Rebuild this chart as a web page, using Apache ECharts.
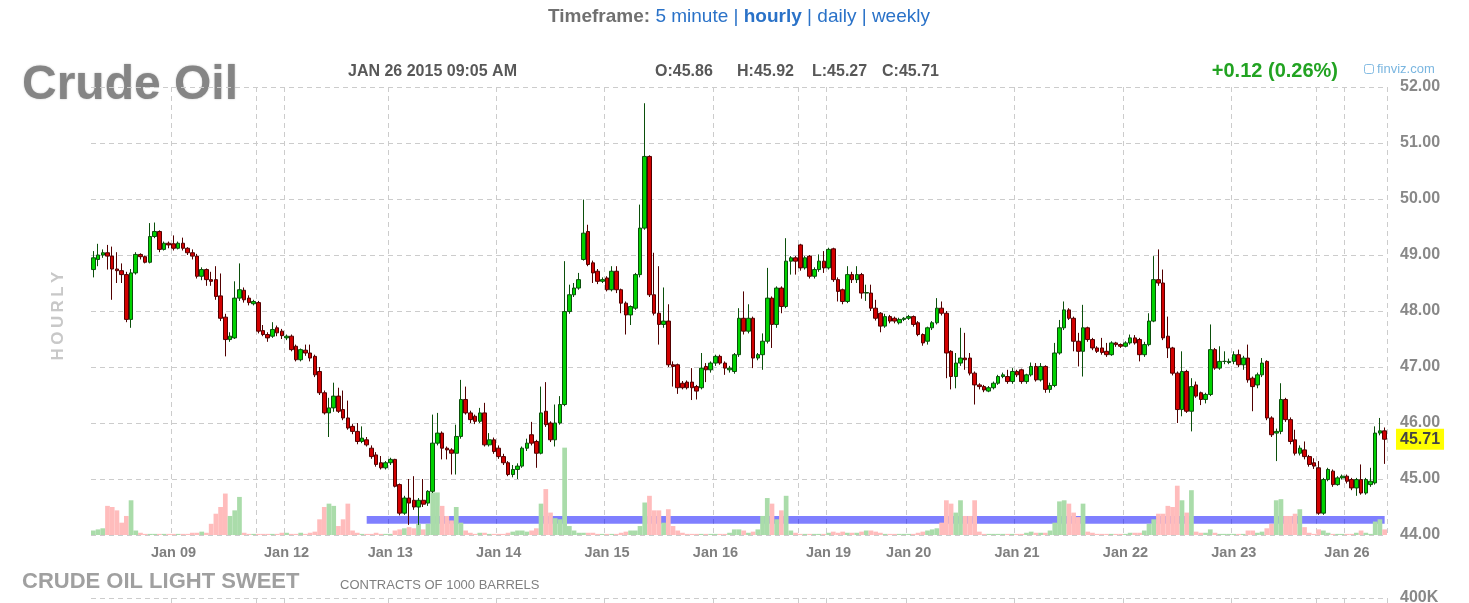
<!DOCTYPE html>
<html><head><meta charset="utf-8">
<script src="https://cdn.jsdelivr.net/npm/echarts@6/dist/echarts.min.js"></script>
<style>html,body{margin:0;padding:0;background:#fff;}#c{width:1469px;height:603px;}</style>
</head><body><div id="c"></div>
<script>
// ---- DATA ----
// trading sessions: [day, number of hourly bars, first hour]
const sessions = [
  ['Jan 08',17,6],['Jan 09',18,0],['Jan 11',6,18],['Jan 12',22,0],['Jan 13',23,0],['Jan 14',23,0],
  ['Jan 15',23,0],['Jan 16',18,0],['Jan 18',6,18],['Jan 19',17,0],['Jan 20',23,0],['Jan 21',23,0],
  ['Jan 22',23,0],['Jan 23',18,0],['Jan 25',6,18],['Jan 26',9,0]
];
const labelledDays = ['Jan 09','Jan 12','Jan 13','Jan 14','Jan 15','Jan 16','Jan 19','Jan 20','Jan 21','Jan 22','Jan 23','Jan 26'];
// [open, close, low, high]
const ohlc = [
[48.74,48.95,48.60,49.07],[48.92,49.00,48.80,49.20],[49.00,49.04,48.95,49.10],[49.04,48.98,48.74,49.18],[48.98,48.75,48.20,49.15],
[48.75,48.72,48.50,49.05],[48.72,48.65,48.50,48.85],[48.65,47.85,47.80,48.70],[47.85,48.68,47.70,48.75],[48.68,49.01,48.65,49.05],
[49.01,48.97,48.92,49.03],[48.97,48.87,48.85,48.99],[48.87,49.33,48.85,49.57],[49.33,49.42,49.30,49.58],[49.42,49.10,49.05,49.44],
[49.10,49.21,49.08,49.24],[49.21,49.18,49.12,49.24],[49.20,49.12,49.08,49.35],[49.12,49.21,49.10,49.24],[49.21,49.12,49.08,49.31],
[49.12,49.04,49.00,49.14],[49.04,48.98,48.92,49.10],[48.98,48.62,48.58,49.02],[48.62,48.74,48.55,48.78],[48.74,48.56,48.45,48.76],
[48.56,48.53,48.45,48.70],[48.56,48.26,48.20,48.80],[48.27,47.87,47.82,48.67],[47.89,47.49,47.19,47.95],[47.49,47.55,47.45,47.62],
[47.52,48.23,47.50,48.53],[48.23,48.38,48.18,48.85],[48.37,48.20,48.15,48.42],[48.23,48.15,48.10,48.28],[48.13,48.17,48.10,48.20],
[48.15,47.64,47.60,48.18],[47.65,47.58,47.55,47.75],[47.58,47.52,47.45,47.62],[47.55,47.67,47.52,47.80],[47.70,47.61,47.55,47.74],
[47.64,47.56,47.50,47.68],[47.52,47.55,47.48,47.58],[47.55,47.31,47.28,47.58],[47.37,47.13,47.10,47.40],[47.13,47.31,47.10,47.33],
[47.30,47.25,47.20,47.40],[47.25,47.16,47.10,47.40],[47.19,46.86,46.82,47.22],[46.92,46.54,46.50,47.00],[46.54,46.18,46.15,46.58],
[46.18,46.27,45.75,46.45],[46.27,46.48,46.20,46.72],[46.48,46.21,46.18,46.63],[46.24,46.09,46.05,46.58],[46.09,45.91,45.88,46.40],
[45.94,45.85,45.80,45.98],[45.85,45.67,45.62,46.00],[45.67,45.73,45.64,45.94],[45.70,45.61,45.58,45.75],[45.55,45.40,45.36,45.60],
[45.43,45.26,45.22,45.48],[45.29,45.20,45.17,45.41],[45.20,45.29,45.17,45.32],[45.29,45.35,45.25,45.38],[45.35,44.87,44.85,45.36],
[44.90,44.39,44.35,44.92],[44.39,44.66,44.36,44.70],[44.66,44.57,44.18,45.00],[44.62,44.50,44.45,45.05],[44.50,44.62,44.18,44.66],
[44.62,44.55,44.50,45.00],[44.57,44.78,44.52,44.80],[44.78,45.64,44.75,46.15],[45.64,45.82,45.60,46.18],[45.82,45.55,45.35,45.85],
[45.55,45.52,45.35,45.58],[45.52,45.46,45.08,45.55],[45.46,45.76,45.08,45.97],[45.76,46.42,45.72,46.77],[46.42,46.18,46.15,46.65],
[46.18,46.06,46.00,46.22],[46.12,46.03,45.98,46.15],[46.03,46.18,46.00,46.27],[46.18,45.61,45.58,46.36],[45.61,45.70,45.58,45.82],
[45.70,45.49,45.45,45.74],[45.55,45.40,45.36,45.60],[45.40,45.29,45.25,45.45],[45.29,45.08,45.05,45.32],[45.08,45.17,45.03,45.25],
[45.17,45.23,45.00,45.28],[45.23,45.55,45.20,45.58],[45.55,45.64,45.50,45.72],[45.79,45.64,45.60,46.02],[45.67,45.46,45.20,45.70],
[45.46,46.18,45.44,46.65],[46.21,45.97,45.93,46.73],[46.00,45.70,45.66,46.03],[45.70,46.00,45.58,46.33],[46.00,46.33,45.97,46.48],
[46.33,47.99,46.30,48.89],[47.99,48.29,47.95,48.47],[48.29,48.41,48.25,48.50],[48.41,48.56,48.38,48.68],[48.92,49.39,48.90,49.99],
[49.42,48.83,48.80,49.54],[48.86,48.68,48.50,48.90],[48.71,48.53,48.48,48.75],[48.53,48.56,48.50,48.60],[48.59,48.38,48.35,48.62],
[48.38,48.71,48.35,48.80],[48.71,48.38,48.32,48.80],[48.38,48.14,47.96,48.40],[48.14,47.93,47.58,48.17],[47.93,48.08,47.75,48.10],
[48.05,48.65,48.02,48.68],[48.65,49.48,48.60,49.90],[49.48,50.76,49.45,51.71],[50.76,48.29,48.25,50.78],[48.29,47.96,47.92,49.04],
[47.96,47.76,47.40,48.80],[47.76,47.82,47.70,48.42],[47.82,47.04,47.00,48.12],[47.04,47.01,46.65,47.10],[47.04,46.63,46.52,47.06],
[46.71,46.63,46.60,46.75],[46.73,46.63,46.60,46.76],[46.73,46.63,46.41,46.98],[46.65,46.57,46.42,46.68],[46.63,46.98,46.60,47.25],
[47.01,46.95,46.73,47.07],[46.95,47.07,46.90,47.10],[47.07,47.19,47.02,47.22],[47.19,47.07,47.04,47.22],[47.07,46.98,46.86,47.10],
[46.95,46.98,46.90,47.02],[46.92,47.22,46.88,47.25],[47.22,47.87,47.18,48.05],[47.87,47.64,47.58,48.35],[47.64,47.87,47.60,48.12],
[47.87,47.16,46.98,47.90],[47.16,47.22,47.12,47.25],[47.22,47.46,46.95,47.60],[47.46,48.23,47.42,48.77],[48.23,47.76,47.34,48.26],
[47.76,48.41,47.70,48.44],[48.41,48.08,47.96,48.44],[48.08,48.89,48.05,49.30],[48.89,48.95,48.65,48.98],[48.95,48.89,48.65,48.98],
[49.18,48.77,48.72,49.20],[48.77,48.95,48.74,48.98],[48.98,48.62,48.58,49.00],[48.62,48.74,48.58,48.78],[48.74,48.89,48.70,49.01],
[48.89,48.77,48.68,49.07],[48.77,49.10,48.74,49.13],[49.11,48.56,48.52,49.13],[48.56,48.35,48.17,48.60],[48.38,48.17,48.12,48.40],
[48.17,48.65,48.14,48.80],[48.65,48.56,48.50,48.70],[48.56,48.65,48.50,48.80],[48.65,48.32,48.22,48.68],[48.32,48.33,48.18,48.47],
[48.32,48.05,48.00,48.47],[48.05,47.87,47.83,48.20],[47.96,47.73,47.62,47.98],[47.73,47.90,47.70,47.95],[47.90,47.82,47.78,47.93],
[47.87,47.82,47.78,47.90],[47.79,47.85,47.76,47.88],[47.85,47.87,47.82,47.89],[47.87,47.90,47.84,47.93],[47.90,47.76,47.72,47.92],
[47.79,47.58,47.55,47.82],[47.58,47.43,47.38,47.60],[47.46,47.70,47.40,47.72],[47.70,47.79,47.66,47.82],[47.79,48.05,47.76,48.23],
[48.05,47.96,47.92,48.17],[47.96,47.25,46.80,48.00],[47.28,46.83,46.60,47.30],[46.83,47.07,46.62,47.25],[47.07,47.16,47.02,47.70],
[47.16,47.13,46.95,47.61],[47.16,46.89,46.85,47.25],[46.89,46.68,46.33,46.92],[46.68,46.65,46.60,46.71],[46.65,46.59,46.55,46.68],
[46.57,46.63,46.55,46.66],[46.63,46.71,46.60,46.74],[46.71,46.83,46.68,46.86],[46.83,46.86,46.80,46.90],[46.83,46.74,46.70,46.95],
[46.74,46.92,46.70,46.98],[46.92,46.86,46.82,46.95],[46.95,46.74,46.70,46.97],[46.74,46.86,46.70,46.88],[46.86,47.01,46.83,47.08],
[47.01,46.77,46.74,47.07],[46.77,47.01,46.74,47.07],[47.01,46.60,46.54,47.03],[46.60,46.67,46.54,46.72],[46.67,47.25,46.64,47.43],
[47.25,47.70,47.22,47.84],[47.70,48.02,47.66,48.17],[48.02,47.87,47.84,48.05],[47.87,47.46,47.28,47.90],[47.46,47.28,47.01,47.61],
[47.28,47.70,46.83,48.11],[47.70,47.49,47.45,47.72],[47.49,47.34,47.30,47.52],[47.34,47.28,47.25,47.37],[47.34,47.26,47.22,47.52],
[47.28,47.22,47.18,47.43],[47.22,47.43,47.20,47.46],[47.43,47.40,47.36,47.45],[47.40,47.37,47.34,47.42],[47.37,47.43,47.35,47.46],
[47.43,47.52,47.40,47.58],[47.52,47.43,47.40,47.57],[47.49,47.22,47.10,47.52],[47.22,47.40,47.18,47.45],[47.40,47.82,47.37,47.96],
[47.82,48.56,47.80,48.98],[48.56,48.50,48.45,49.10],[48.50,47.52,47.48,48.74],[47.55,47.34,47.16,47.90],[47.34,46.89,46.85,47.36],
[46.89,46.24,46.00,46.92],[46.24,46.92,46.12,47.28],[46.92,46.21,46.18,46.95],[46.21,46.65,45.85,46.80],[46.68,46.48,46.45,46.74],
[46.54,46.42,46.32,46.56],[46.42,46.51,46.35,46.54],[46.51,47.31,46.48,47.76],[47.31,46.98,46.95,47.34],[46.98,47.10,46.95,47.37],
[47.10,47.10,47.05,47.28],[47.08,47.10,47.05,47.15],[47.10,47.22,47.05,47.28],[47.22,47.04,47.00,47.31],[47.04,47.16,46.95,47.20],
[47.16,46.77,46.72,47.40],[46.80,46.65,46.21,46.83],[46.68,46.86,46.62,46.90],[46.86,47.07,46.82,47.16],[47.10,46.09,46.05,47.12],
[46.09,45.79,45.75,46.12],[45.82,45.85,45.32,45.90],[45.85,46.42,45.80,46.71],[46.42,46.06,46.02,46.45],[46.06,45.67,45.62,46.10],
[45.70,45.46,45.42,45.88],[45.46,45.55,45.42,45.60],[45.52,45.40,45.35,45.67],[45.40,45.26,45.22,45.43],[45.29,45.23,45.18,45.37],
[45.20,44.39,44.36,45.32],[44.39,44.99,44.36,45.02],[44.99,45.17,44.96,45.20],[45.14,44.90,44.86,45.17],[44.90,45.02,44.88,45.05],
[45.02,45.05,44.99,45.08],[45.05,44.96,44.92,45.08],[44.99,44.84,44.80,45.02],[44.84,44.99,44.70,45.02],[44.99,44.75,44.72,45.26],
[44.75,44.99,44.72,45.02],[44.90,44.96,44.86,45.20],[44.93,45.82,44.90,45.94],[45.82,45.86,45.78,46.09],[45.86,45.71,45.27,45.92]
];
// volume, thousands of contracts
const volume = [
4,5,6,26,25,22,11,17,31,4,2,1,1,1,1,1,1,
1,1,1,1,2,2,3,2,10,19,25,37,17,22,34,2,1,1,
1,1,1,1,1,2,
2,1,1,2,1,2,3,14,25,28,26,8,14,28,4,2,1,1,1,2,1,1,
1,4,5,6,7,6,10,5,10,38,38,26,17,13,25,11,4,2,1,2,2,1,1,
1,1,2,3,4,4,3,4,6,28,41,20,15,14,78,8,4,2,2,2,2,1,1,
1,1,1,2,3,4,4,8,29,35,22,22,11,23,8,4,2,1,1,1,1,1,1,
1,1,1,2,5,5,4,2,3,5,17,33,28,14,22,35,4,2,
1,1,1,1,1,1,
2,3,2,3,2,2,2,3,4,4,3,2,1,1,1,1,1,
1,1,2,3,4,5,6,11,31,28,20,31,17,17,31,3,1,1,1,1,1,1,1,
1,1,2,3,2,2,2,4,11,30,31,28,20,16,28,3,2,1,1,1,1,1,1,
1,2,2,2,4,10,14,19,19,26,25,44,31,20,40,3,2,2,5,2,1,1,1,
1,1,1,4,4,2,3,6,10,31,32,17,17,19,23,7,2,1,
5,4,2,1,1,1,
1,1,2,4,2,1,12,14,5
];
const priceAxis = {min:44, max:52, interval:1};
const volumeAxisMax = 400;          // K contracts, the "400K" scale
const bandRange = [44.20, 44.34];   // blue horizontal band
const bandStartBar = 58;
const header = {date:'JAN 26 2015 09:05 AM', o:'45.86', h:'45.92', l:'45.27', c:'45.71', change:'+0.12 (0.26%)'};

// ---- BUILD ----
const categories = [];
const dayStart = {};
sessions.forEach(([day, n, h0]) => {
  dayStart[day] = categories.length;
  let h = h0;
  for (let k = 0; k < n; k++) {
    categories.push(day + ' ' + String(h).padStart(2, '0') + ':00');
    h = (h + 1) % 24; if (h === 17) h = 18;
  }
});
const gridIdx = new Set(sessions.slice(1).map(s => dayStart[s[0]]));
const labelIdx = new Set(labelledDays.map(d => dayStart[d]));
const lastClose = ohlc[ohlc.length - 1][1];

const FONT = 'Arial, "Liberation Sans", sans-serif';
const UP = '#00d200', UP_B = '#0b4f0b', DN = '#d20000', DN_B = '#520000';
const VUP = '#aadcaa', VDN = '#ffbcbc';
const splitV = {show:true, interval:(i) => gridIdx.has(i), lineStyle:{color:'#cccccc', type:[5,4], width:1}};

const chart = echarts.init(document.getElementById('c'));
chart.setOption({
  animation:false,
  backgroundColor:'#ffffff',
  grid:[
    {left:91, right:82, top:87, height:448},
    {left:91, right:82, top:598, height:100}
  ],
  xAxis:[
    {type:'category', gridIndex:0, data:categories, boundaryGap:true,
     axisLine:{show:false}, axisTick:{show:false}, splitLine:splitV,
     axisLabel:{interval:(i) => labelIdx.has(i), formatter:(v) => v.slice(0, 6),
       color:'#808080', fontWeight:'bold', fontSize:14.5, fontFamily:FONT, margin:10}},
    {type:'category', gridIndex:1, data:categories, boundaryGap:true,
     axisLine:{show:false}, axisTick:{show:false}, axisLabel:{show:false}, splitLine:splitV}
  ],
  yAxis:[
    {type:'value', gridIndex:0, position:'right', min:priceAxis.min, max:priceAxis.max, interval:priceAxis.interval,
     axisLine:{show:false}, axisTick:{show:false},
     splitLine:{show:true, lineStyle:{color:'#cccccc', type:[5,4], width:1}},
     axisLabel:{formatter:(v) => v.toFixed(2), color:'#888888', fontWeight:'bold', fontSize:16, fontFamily:FONT, margin:13, padding:[4,0,0,0]}},
    {type:'value', gridIndex:0, min:0, max:volumeAxisMax, show:false, splitLine:{show:false}},
    {type:'value', gridIndex:1, position:'right', min:0, max:volumeAxisMax, interval:volumeAxisMax,
     axisLine:{show:false}, axisTick:{show:false},
     splitLine:{show:true, lineStyle:{color:'#cccccc', type:[5,4], width:1}},
     axisLabel:{formatter:(v) => v ? v + 'K' : '', color:'#888888', fontWeight:'bold', fontSize:16, fontFamily:FONT, margin:13}}
  ],
  series:[
    {type:'bar', name:'Volume', xAxisIndex:0, yAxisIndex:1, silent:true, z:1,
     barWidth:'100%', barCategoryGap:'0%',
     data: volume.map((v, i) => ({value:v, itemStyle:{color: ohlc[i][1] >= ohlc[i][0] ? VUP : VDN}}))},
    {type:'candlestick', name:'Crude Oil', xAxisIndex:0, yAxisIndex:0, z:3, barWidth:'86%',
     itemStyle:{color:UP, color0:DN, borderColor:UP_B, borderColor0:DN_B, borderWidth:1},
     data: ohlc.map(d => [d[0], d[1], d[2], d[3]])},
    {type:'line', name:'band', xAxisIndex:0, yAxisIndex:0, z:6, data:[], silent:true, clip:false,
     markArea:{silent:true, itemStyle:{color:'rgba(0,0,255,0.5)'},
       data:[[{xAxis:categories[bandStartBar], yAxis:bandRange[0]}, {xAxis:categories[categories.length-1], yAxis:bandRange[1]}]]},
     markLine:{silent:true, symbol:['none','none'], lineStyle:{color:'rgba(0,0,0,0)', width:0},
       label:{show:true, position:'end', formatter:lastClose.toFixed(2), backgroundColor:'#ffff00',
         color:'#444444', fontWeight:'bold', fontSize:16, fontFamily:FONT, padding:[3,4,2,4], distance:9},
       data:[{yAxis:lastClose}]}}
  ],
  graphic:[
    {type:'text', x:739, y:17, style:{
      text:'{a|Timeframe:} {b|5 minute} {s||} {c|hourly} {s||} {b|daily} {s||} {b|weekly}',
      align:'center', textAlign:'center', verticalAlign:'middle', textVerticalAlign:'middle',
      font:'19px ' + FONT,
      rich:{
        a:{fontWeight:'bold', fontSize:19, fill:'#707070', color:'#707070', fontFamily:FONT},
        b:{fontSize:19, fill:'#2a72c8', color:'#2a72c8', fontFamily:FONT},
        c:{fontWeight:'bold', fontSize:19, fill:'#2a72c8', color:'#2a72c8', fontFamily:FONT},
        s:{fontSize:19, fill:'#2a72c8', color:'#2a72c8', fontFamily:FONT}
      }}},
    {type:'text', x:22, y:86, style:{text:'Crude Oil', font:'bold 48px ' + FONT, fill:'#858585',
      verticalAlign:'middle', textVerticalAlign:'middle', shadowColor:'rgba(0,0,0,0.25)', shadowBlur:2, textShadowColor:'rgba(0,0,0,0.25)', textShadowBlur:2}},
    {type:'text', x:348, y:72, style:{text:header.date, font:'bold 16px ' + FONT, fill:'#585858', verticalAlign:'middle', textVerticalAlign:'middle'}},
    {type:'text', x:655, y:72, style:{text:'O:' + header.o, font:'bold 16px ' + FONT, fill:'#585858', verticalAlign:'middle', textVerticalAlign:'middle'}},
    {type:'text', x:737, y:72, style:{text:'H:' + header.h, font:'bold 16px ' + FONT, fill:'#585858', verticalAlign:'middle', textVerticalAlign:'middle'}},
    {type:'text', x:812, y:72, style:{text:'L:' + header.l, font:'bold 16px ' + FONT, fill:'#585858', verticalAlign:'middle', textVerticalAlign:'middle'}},
    {type:'text', x:882, y:72, style:{text:'C:' + header.c, font:'bold 16px ' + FONT, fill:'#585858', verticalAlign:'middle', textVerticalAlign:'middle'}},
    {type:'text', x:1338, y:71, style:{text:header.change, font:'bold 20px ' + FONT, fill:'#22a322', align:'right', textAlign:'right', verticalAlign:'middle', textVerticalAlign:'middle'}},
    {type:'rect', shape:{x:1364.5, y:64.5, width:9, height:9, r:2}, style:{fill:'none', stroke:'#86bde3', lineWidth:1}},
    {type:'text', x:1377, y:69, style:{text:'finviz.com', font:'13px ' + FONT, fill:'#7ab6e0', verticalAlign:'middle', textVerticalAlign:'middle'}},
    {type:'text', x:58, y:316, rotation:Math.PI/2, style:{text:'H\u2009O\u2009U\u2009R\u2009L\u2009Y', font:'bold 17px ' + FONT, fill:'#c8c8c8',
      align:'center', textAlign:'center', verticalAlign:'middle', textVerticalAlign:'middle'}},
    {type:'text', x:22, y:582, style:{text:'CRUDE OIL LIGHT SWEET', font:'bold 22px ' + FONT, fill:'#a0a0a0', verticalAlign:'middle', textVerticalAlign:'middle'}},
    {type:'text', x:340, y:585, style:{text:'CONTRACTS OF 1000 BARRELS', font:'13px ' + FONT, fill:'#808080', verticalAlign:'middle', textVerticalAlign:'middle'}}
  ]
});
</script>
</body></html>
